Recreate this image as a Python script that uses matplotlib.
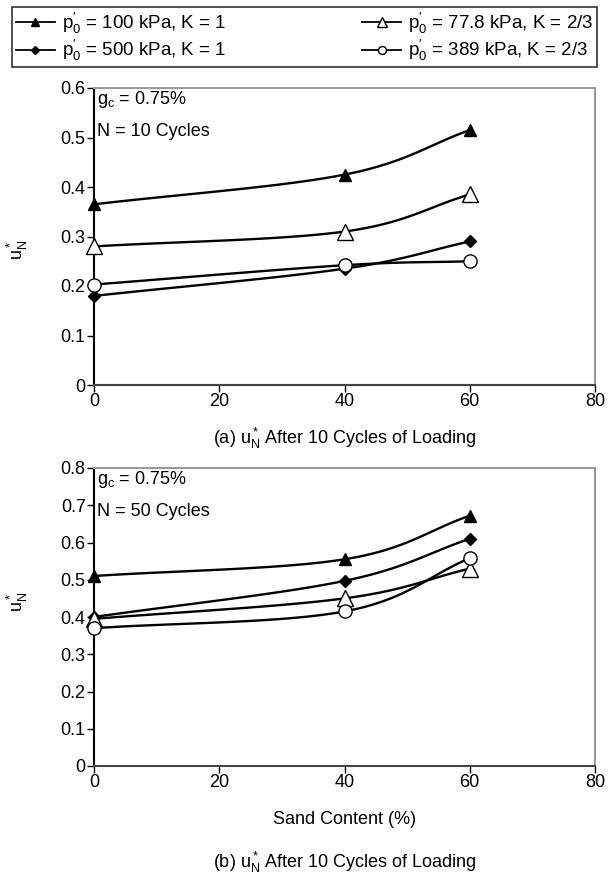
import numpy as np
import matplotlib
matplotlib.use("Agg")
import matplotlib.pyplot as plt
from matplotlib.lines import Line2D

plt.rcParams['font.family'] = ['Liberation Sans', 'DejaVu Sans']
plt.rcParams['mathtext.fontset'] = 'custom'
plt.rcParams['mathtext.rm'] = 'Liberation Sans'
plt.rcParams['mathtext.it'] = 'Liberation Sans'

# Data
sand = [0, 40, 60]
labels = [r"$\mathregular{p_0^{\prime}}$ = 100 kPa, K = 1",
          r"$\mathregular{p_0^{\prime}}$ = 500 kPa, K = 1",
          r"$\mathregular{p_0^{\prime}}$ = 77.8 kPa, K = 2/3",
          r"$\mathregular{p_0^{\prime}}$ = 389 kPa, K = 2/3"]
n10_p100 = [0.365, 0.425, 0.515]
n10_p500 = [0.180, 0.235, 0.290]
n10_p778 = [0.280, 0.310, 0.385]
n10_p389 = [0.203, 0.242, 0.250]
n50_p100 = [0.510, 0.555, 0.672]
n50_p500 = [0.400, 0.497, 0.610]
n50_p778 = [0.395, 0.450, 0.530]
n50_p389 = [0.370, 0.415, 0.558]

styles = [dict(marker='^', mfc='black', ms=9),
          dict(marker='D', mfc='black', ms=6.5),
          dict(marker='^', mfc='white', ms=11),
          dict(marker='o', mfc='white', ms=9.5)]
FS = 13


def smooth(x, y, n=40):
    # Catmull-Rom curve through the points, like Excel's smoothed line
    x = np.asarray(x, float)
    y = np.asarray(y, float)
    px = np.concatenate([[2 * x[0] - x[1]], x, [2 * x[-1] - x[-2]]])
    py = np.concatenate([[2 * y[0] - y[1]], y, [2 * y[-1] - y[-2]]])
    xs, ys = [], []
    t = np.linspace(0, 1, n)
    for i in range(1, len(px) - 2):
        for p, out in ((px, xs), (py, ys)):
            p0, p1, p2, p3 = p[i - 1], p[i], p[i + 1], p[i + 2]
            out.extend(0.5 * (2 * p1 + (-p0 + p2) * t
                              + (2 * p0 - 5 * p1 + 4 * p2 - p3) * t ** 2
                              + (-p0 + 3 * p1 - 3 * p2 + p3) * t ** 3))
    return xs, ys


W, H = 608, 877
fig = plt.figure(figsize=(W / 100, H / 100), dpi=100)
L, R = 94, 595


def make_axes(top, bottom, series, ymax, text2, ylab_y):
    ax = fig.add_axes([L / W, (H - bottom) / H, (R - L) / W, (bottom - top) / H])
    for vals, st in zip(series, styles):
        xs, ys = smooth(sand, vals)
        ax.plot(xs, ys, color='black', lw=1.7, zorder=2, clip_on=False)
        ax.plot(sand, vals, ls='none', color='black', mec='black', mew=1.0,
                zorder=3, clip_on=False, **st)
    ax.set_xlim(0, 80)
    ax.set_ylim(0, ymax)
    ticks = np.arange(0, ymax + 0.01, 0.1)
    ax.set_xticks([0, 20, 40, 60, 80])
    ax.set_yticks(ticks)
    ax.set_yticklabels(['%g' % v for v in ticks])
    ax.tick_params(direction='out', length=5, width=1, labelsize=FS, pad=1)
    for s in ('top', 'right'):
        ax.spines[s].set_color('#9a9a9a')
        ax.spines[s].set_linewidth(1.5)
    ax.spines['left'].set_linewidth(1.5)
    ax.spines['bottom'].set_color('#444444')
    ax.spines['bottom'].set_linewidth(1.5)
    ax.text(3 / (R - L), 1 - 12 / (bottom - top), r'$\mathregular{g_c}$ = 0.75%',
            transform=ax.transAxes, fontsize=FS, va='center')
    ax.text(3 / (R - L), 1 - 43 / (bottom - top), text2, transform=ax.transAxes,
            fontsize=FS, va='center')
    fig.text(17 / W, 1 - ylab_y / H, r'$\mathregular{u^*_N}$', rotation=90,
             ha='center', va='center', fontsize=FS)
    return ax


make_axes(88, 385, [n10_p100, n10_p500, n10_p778, n10_p389], 0.6, 'N = 10 Cycles', 250)
make_axes(468, 766, [n50_p100, n50_p500, n50_p778, n50_p389], 0.8, 'N = 50 Cycles', 602)

fig.text(345 / W, 1 - 438 / H, r'(a) $\mathregular{u^*_N}$ After 10 Cycles of Loading',
         ha='center', va='center', fontsize=FS)
fig.text(345 / W, 1 - 820 / H, 'Sand Content (%)', ha='center', va='center', fontsize=FS)
fig.text(345 / W, 1 - 862 / H, r'(b) $\mathregular{u^*_N}$ After 10 Cycles of Loading',
         ha='center', va='center', fontsize=FS)

handles = [Line2D([], [], color='black', lw=1.3, markeredgecolor='black',
                  **dict(st, ms=st['ms'] * 0.6)) for st in styles]
leg = fig.legend(handles, labels, ncol=2, loc='upper left',
                 bbox_to_anchor=(12 / W, 1 - 7 / H, (597 - 12) / W, 0),
                 mode='expand', borderaxespad=0,
                 fontsize=13.5, frameon=True, fancybox=False,
                 edgecolor='black', handlelength=2.1, handletextpad=0.35,
                 labelspacing=0.12, borderpad=0.2, columnspacing=1.0)
leg.get_frame().set_linewidth(1.2)

fig.savefig('out.png', dpi=100)
